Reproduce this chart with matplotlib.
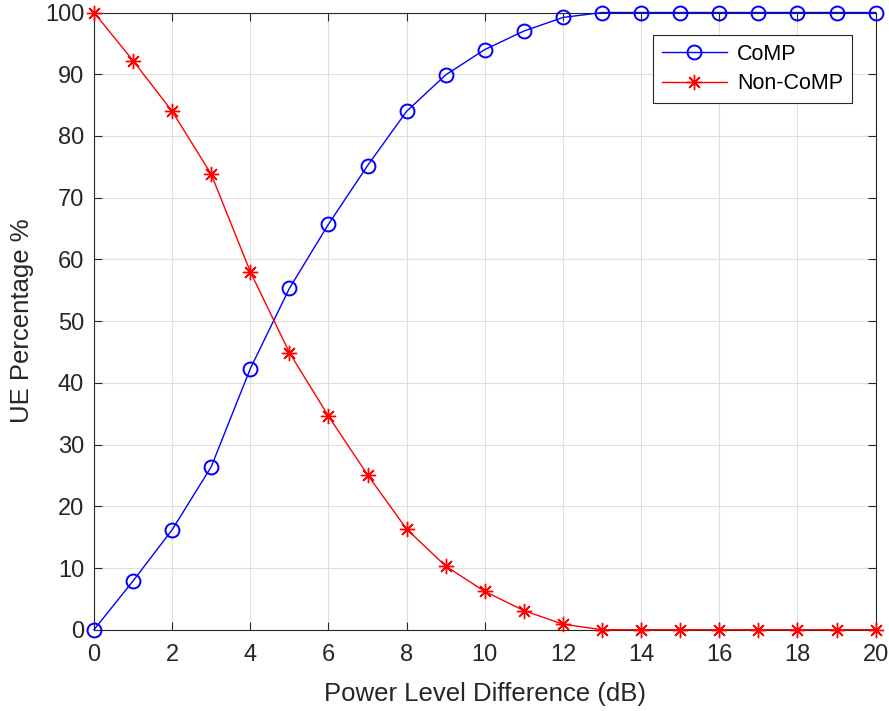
import matplotlib
matplotlib.use('Agg')
import matplotlib.pyplot as plt
import numpy as np

power_diff = list(range(0, 21))
comp = [0, 7.9, 16.2, 26.4, 42.3, 55.3, 65.7, 75.2, 84.0, 89.9, 94.0, 97.0, 99.2,
        100, 100, 100, 100, 100, 100, 100, 100]
non_comp = [100, 92.2, 84.0, 73.8, 58.0, 44.9, 34.6, 25.1, 16.3, 10.3, 6.2, 3.1, 0.9,
            0, 0, 0, 0, 0, 0, 0, 0]

plt.rcParams['font.family'] = ['Liberation Sans', 'DejaVu Sans']
txt = '#262626'

fig = plt.figure(figsize=(8.89, 7.11), dpi=100)
ax = fig.add_axes([0.1057, 0.1143, 0.8793, 0.8681])

ax.plot(power_diff, comp, color='blue', lw=1, marker='o', ms=10,
        mfc='none', mec='blue', mew=1.4, label='CoMP', clip_on=False, zorder=3)
ax.plot(power_diff, non_comp, color='red', lw=1, marker=(8, 2, 0), ms=11,
        mec='red', mew=1.0, label='Non-CoMP', clip_on=False, zorder=3)

ax.set_xlim(0, 20)
ax.set_ylim(0, 100)
ax.set_xticks(range(0, 21, 2))
ax.set_yticks(range(0, 101, 10))
ax.grid(True, color='#dfdfdf', lw=0.8)
ax.set_axisbelow(True)
ax.tick_params(direction='in', length=6, width=0.8, colors=txt, labelsize=17,
               top=True, right=True)
ax.tick_params(axis='x', pad=10)
ax.tick_params(axis='y', pad=7)
for s in ax.spines.values():
    s.set_color(txt)
    s.set_linewidth(0.8)

ax.set_xlabel('Power Level Difference (dB)', fontsize=18.5, color=txt, labelpad=12)
ax.set_ylabel('UE Percentage %', fontsize=18.5, color=txt, labelpad=8)

leg = ax.legend(loc='upper right', bbox_to_anchor=(0.9697, 0.9635), borderaxespad=0,
                fontsize=15.5, fancybox=False, edgecolor=txt, framealpha=1,
                handlelength=3.0, borderpad=0.4, labelspacing=0.4, handletextpad=0.5)
leg.get_frame().set_linewidth(0.8)

fig.savefig('out.png', dpi=100)
